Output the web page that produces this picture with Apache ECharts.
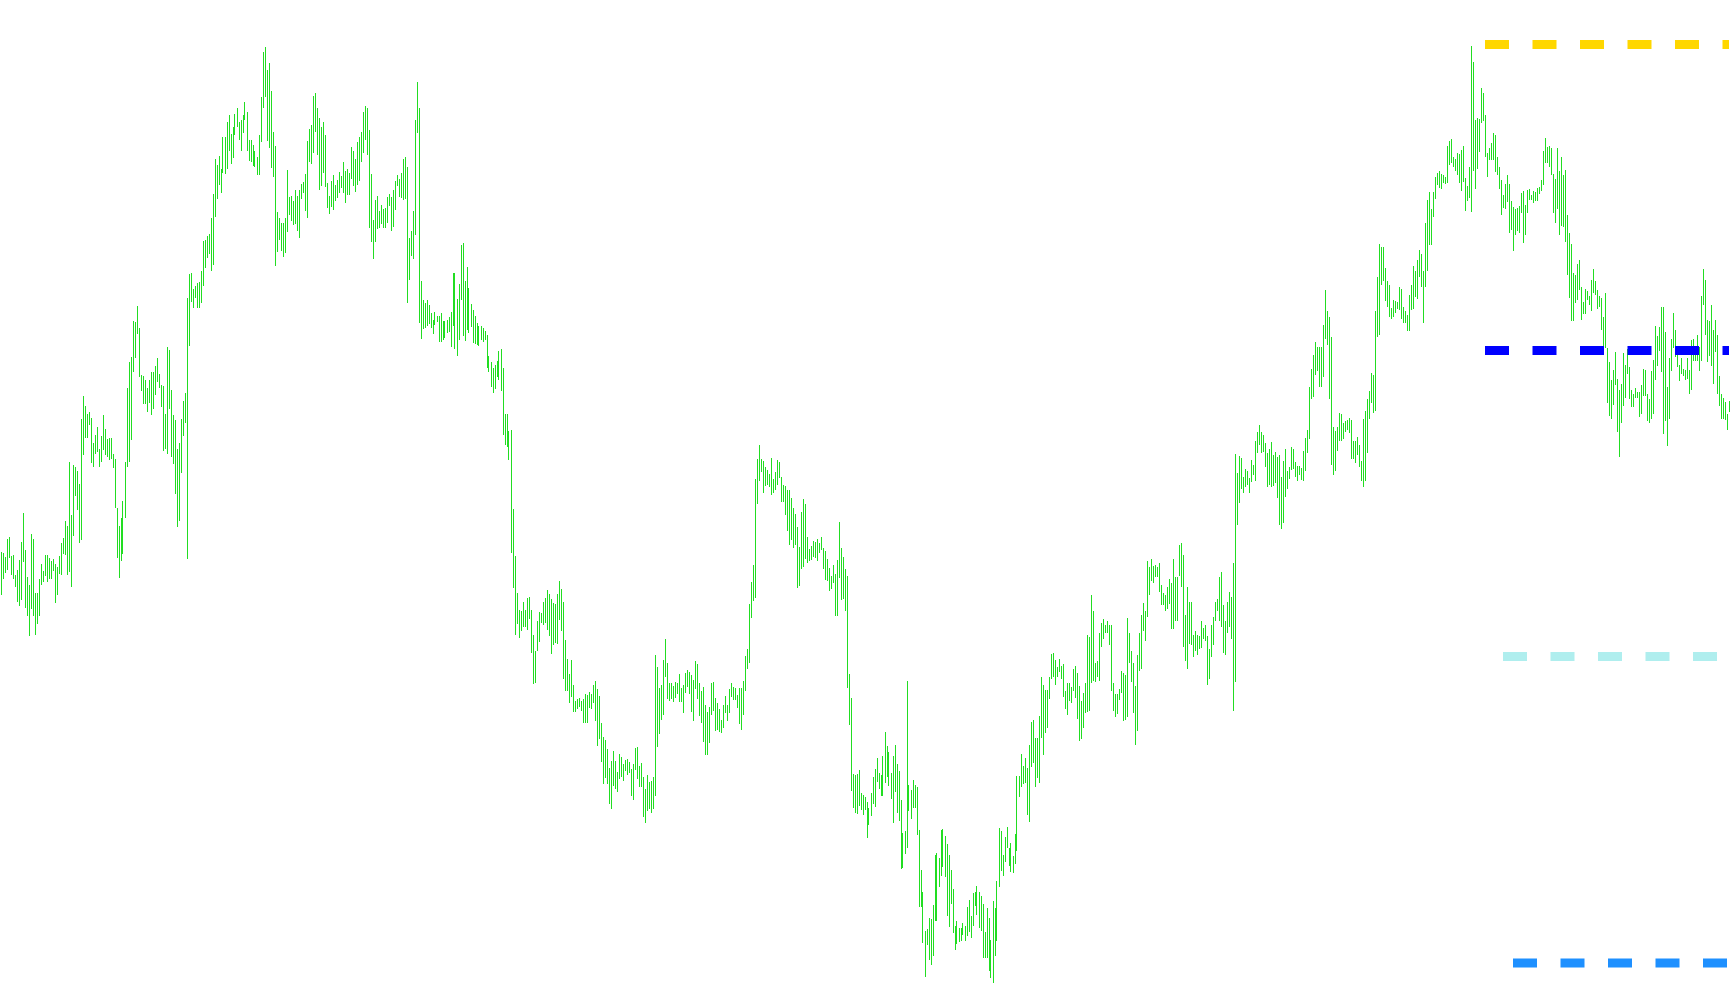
<!DOCTYPE html>
<html>
<head>
<meta charset="utf-8">
<script src="https://cdn.jsdelivr.net/npm/echarts@6/dist/echarts.min.js"></script>
<style>
html,body{margin:0;padding:0;background:#ffffff;}
#chart{width:1730px;height:1005px;}
</style>
</head>
<body>
<div id="chart"></div>
<script>
// Bar highs (865 bars)
var highs = [
448,447,443,461,463,444,445,425,430,440,458,487,450,423,415,466,461,407,407,421,436,429,445,445,442,439,441,436,433,444,457,462,479,474,538,485,535,533,529,516,581,604,594,586,588,582,557,565,573,551,564,585,571,561,562,562,546,541,492,474,482,499,538,612,638,643,679,678,694,672,625,624,620,612,620,628,628,634,642,626,615,614,586,653,650,610,585,580,551,557,581,599,607,702,726,727,711,714,717,718,729,759,760,764,766,782,806,841,835,844,831,863,863,878,885,866,873,886,892,878,880,885,898,888,860,860,855,849,843,865,
903,948,953,930,937,909,868,854,788,782,777,777,782,830,803,804,799,810,804,810,816,818,826,859,871,875,904,907,892,882,873,878,865,817,804,819,825,815,820,828,824,838,829,831,827,853,849,841,858,863,868,888,894,892,870,826,780,800,804,789,795,791,792,803,806,803,810,819,825,821,827,841,843,833,762,769,789,880,918,892,719,700,697,700,695,687,680,688,684,684,687,679,679,680,683,688,727,727,701,716,755,757,719,733,712,696,690,684,677,674,674,672,669,665,644,638,632,635,639,649,651,632,586,586,569,570,491,444,407,390,
389,398,390,402,403,390,365,349,379,388,387,398,402,410,406,401,397,396,406,419,411,398,360,341,326,340,315,299,301,302,299,301,306,305,308,306,315,319,311,304,277,263,260,251,232,239,249,239,228,246,243,236,240,241,238,231,236,252,253,234,237,223,211,225,218,219,223,345,333,312,315,340,361,337,317,317,314,318,317,326,312,315,327,330,328,325,320,339,336,317,309,313,295,288,293,317,318,302,297,291,280,295,304,295,311,317,313,312,305,312,312,319,344,351,396,418,435,521,541,555,541,539,533,530,526,542,521,528,540,538,
523,515,514,510,510,502,492,486,473,453,488,501,496,463,451,454,459,458,461,457,463,452,449,441,432,424,435,426,440,478,452,443,431,424,326,302,226,225,226,230,207,205,203,198,192,207,223,231,242,227,225,244,268,254,248,227,244,255,236,229,200,167,169,319,215,210,220,215,213,170,130,108,69,71,82,81,95,145,147,142,170,171,164,156,145,130,111,74,79,72,72,77,74,93,100,84,107,108,114,108,104,96,68,92,82,60,99,92,119,172,169,145,163,173,152,157,144,166,224,224,246,234,242,232,255,278,280,262,262,284,
323,315,310,310,323,346,347,340,333,341,334,336,309,317,317,313,331,334,327,314,299,307,317,365,363,405,389,337,339,367,377,381,375,379,375,375,317,306,306,311,329,327,325,382,367,349,337,314,345,367,385,397,389,439,433,441,434,435,433,437,415,407,405,413,421,417,441,423,423,455,457,445,385,413,398,398,365,369,365,364,379,372,375,364,351,375,383,398,401,423,428,395,379,398,408,403,437,546,527,544,542,523,531,529,522,540,535,559,568,575,568,565,557,547,551,558,545,548,543,545,523,539,551,529,533,553,551,538,534,534,
532,549,562,570,613,631,645,658,653,653,653,675,710,689,683,663,573,569,573,587,586,577,579,580,582,580,559,559,563,555,539,581,589,601,609,627,625,689,723,756,753,753,732,719,715,692,700,699,698,713,711,693,689,685,705,715,734,729,740,750,746,729,777,800,808,791,808,823,827,829,826,825,823,854,859,861,843,841,847,846,850,854,822,814,833,954,938,880,882,881,912,907,885,847,852,857,867,865,843,833,820,805,816,825,816,799,793,791,792,794,807,809,795,810,811,805,809,808,812,813,820,849,862,853,854,852,826,821,852,829,
843,825,830,785,767,756,727,725,736,740,713,698,711,709,704,720,731,719,710,704,702,683,707,652,638,620,630,648,621,610,616,647,635,651,633,610,606,612,608,608,615,631,630,606,601,629,640,674,664,673,693,693,668,613,642,661,687,670,652,635,642,631,630,642,630,660,661,652,665,653,704,731,720,680,679,695,670,680,665,624,606,602,598,586,599
];
// Bar lows
var lows = [
405,421,427,430,442,425,421,413,398,394,400,438,392,384,364,391,384,365,376,384,415,418,424,418,421,421,429,397,405,426,425,446,445,425,428,413,464,504,490,457,460,545,562,562,575,537,533,546,548,533,538,550,545,543,540,541,532,492,442,422,439,446,482,533,538,560,628,642,666,623,609,596,596,588,597,585,591,605,618,612,593,549,551,546,591,543,536,506,473,479,527,564,577,441,654,698,692,702,692,692,697,714,732,742,746,729,735,783,801,815,807,827,826,831,849,836,842,865,873,860,849,867,880,849,839,838,834,833,825,825,
858,892,903,859,852,832,823,734,748,760,749,743,747,768,785,779,775,776,769,762,801,807,789,782,838,836,847,868,845,810,814,827,813,792,786,793,790,799,802,807,812,807,797,805,805,821,814,808,815,819,838,847,860,845,772,758,741,758,771,772,776,772,772,777,794,769,773,790,814,803,802,800,801,697,720,744,741,765,867,677,661,671,672,674,676,672,666,675,678,658,658,660,662,667,668,653,674,651,644,660,700,664,659,670,667,673,657,656,655,654,660,658,660,632,628,613,607,611,623,620,609,565,555,553,540,447,412,365,376,362,
369,373,373,370,381,347,316,317,349,358,377,375,377,370,364,346,355,357,356,380,369,321,309,309,297,303,288,288,291,293,289,277,277,277,292,291,297,279,254,261,238,216,222,216,196,191,214,211,208,221,223,219,229,225,227,204,200,230,221,213,213,183,177,189,191,187,191,204,253,266,280,285,323,301,299,301,298,302,306,298,298,287,307,313,306,288,279,311,301,284,277,258,245,245,257,285,289,269,270,268,267,272,287,279,287,303,300,300,292,276,270,285,309,331,337,382,399,402,496,519,528,507,514,515,513,505,507,510,515,522,
498,498,485,469,455,460,452,455,412,414,431,433,441,437,439,440,443,442,439,447,450,431,420,419,409,411,417,384,384,422,400,401,389,312,275,209,192,187,186,194,190,185,190,162,175,184,196,193,218,211,204,204,217,223,214,201,177,208,187,179,131,132,146,152,189,181,192,192,165,93,93,57,23,55,40,35,44,79,79,113,124,133,123,84,73,96,67,50,56,58,59,65,59,64,68,62,74,94,85,72,69,42,42,42,29,22,17,44,59,113,129,124,138,152,134,128,127,136,149,203,213,216,217,185,178,233,237,213,222,217,
262,245,267,272,301,321,323,315,323,328,321,303,291,285,299,297,309,302,281,259,261,272,287,288,289,317,319,318,323,319,353,361,367,367,355,309,289,283,286,300,307,279,280,283,337,318,287,255,269,329,331,369,359,383,405,419,417,423,423,408,395,395,389,391,396,371,371,379,379,424,413,353,339,331,356,355,343,349,345,351,352,361,359,315,321,343,355,379,389,379,373,347,345,367,373,361,289,318,475,497,511,507,513,515,507,518,525,519,547,555,547,548,533,513,515,513,514,517,502,475,471,477,503,511,521,530,531,523,519,525,
520,519,529,547,561,601,603,625,629,613,613,623,661,655,601,535,525,529,549,559,559,561,568,570,567,541,541,537,545,533,519,513,519,547,581,597,587,589,663,665,715,719,699,693,683,681,683,687,691,690,681,677,677,669,669,690,691,703,701,723,713,677,713,729,755,755,783,801,815,812,811,817,816,817,835,837,833,829,825,817,809,818,789,799,802,788,829,811,831,848,877,879,843,823,840,840,840,828,825,811,785,792,791,798,767,770,749,765,769,767,787,757,765,787,800,800,797,799,799,806,809,815,837,837,833,825,787,777,791,765,
774,773,758,725,702,679,679,697,700,710,680,686,686,700,695,689,707,705,691,693,670,647,652,597,584,581,595,615,568,543,577,594,602,626,601,593,593,602,602,583,586,604,604,579,577,581,586,620,634,649,628,566,579,554,581,629,652,643,633,619,626,624,620,621,606,610,639,639,639,629,639,695,665,638,644,634,616,648,606,594,581,581,580,570,588
];
// Horizontal levels and the bar index where each starts
var levelNames  = ['Level 1', 'Level 2', 'Level 3', 'Level 4'];
var levelValues = [955.5, 649.5, 343.5, 37];
var levelStart  = [742, 742, 751, 756];
var levelColors = ['#ffd700', '#0000ff', '#afeeee', '#1e90ff'];

var n = highs.length;
var categories = [];
var barData = [];
for (var i = 0; i < n; i++) {
  categories.push(String(i));
  barData.push([i, highs[i], lows[i]]);
}

var series = [{
  type: 'custom',
  name: 'bars',
  data: barData,
  encode: { x: 0, y: [1, 2] },
  silent: true,
  renderItem: function (params, api) {
    var idx = api.value(0);
    var top = api.coord([idx, api.value(1)]);
    var bot = api.coord([idx, api.value(2)]);
    var x = Math.floor(top[0]);
    var y = Math.round(top[1]);
    var h = Math.max(1, Math.round(bot[1]) - y);
    return {
      type: 'rect',
      shape: { x: x, y: y, width: 1, height: h },
      style: { fill: '#22dd22' }
    };
  }
}];

for (var k = 0; k < levelValues.length; k++) {
  var d = [];
  for (var j = 0; j < n; j++) d.push(j >= levelStart[k] ? levelValues[k] : null);
  series.push({
    type: 'line',
    name: levelNames[k],
    data: d,
    symbol: 'none',
    silent: true,
    z: 3,
    lineStyle: { color: levelColors[k], width: 9, type: [24, 23.5], cap: 'butt' }
  });
}

var chart = echarts.init(document.getElementById('chart'));
chart.setOption({
  animation: false,
  backgroundColor: '#ffffff',
  grid: { left: 0, right: 0, top: 0, bottom: 0 },
  xAxis: { type: 'category', data: categories, show: false, boundaryGap: true },
  yAxis: { type: 'value', min: -5, max: 1000, show: false },
  series: series
});
</script>
</body>
</html>
